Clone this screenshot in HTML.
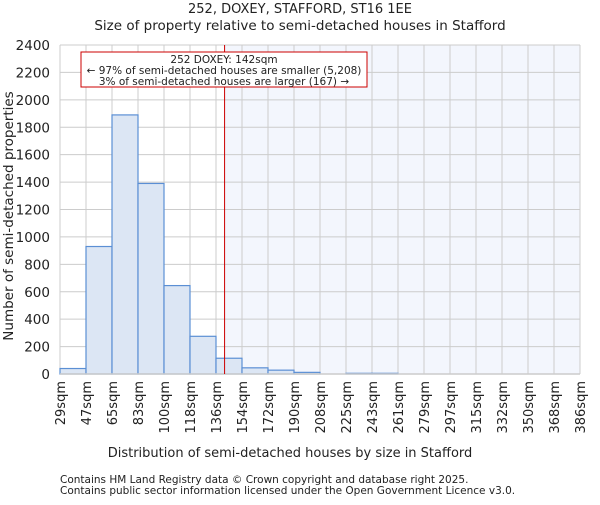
<!DOCTYPE html>
<html><head><meta charset="utf-8"><style>
body{margin:0;background:#fff}
svg text{font-family:"DejaVu Sans","Liberation Sans",sans-serif;fill:#222}
</style></head><body>
<svg id="c" width="600" height="500"></svg>
<script>
const categories=["29sqm","47sqm","65sqm","83sqm","100sqm","118sqm","136sqm","154sqm","172sqm","190sqm","208sqm","225sqm","243sqm","261sqm","279sqm","297sqm","315sqm","332sqm","350sqm","368sqm","386sqm"];
const counts=[40,930,1890,1390,645,275,115,45,28,12,0,5,5,0,0,0,0,0,0,0];
const yTicks=[0,200,400,600,800,1000,1200,1400,1600,1800,2000,2200,2400];
const markerBin=6.33;
const NS="http://www.w3.org/2000/svg";
const svg=document.getElementById('c');
const L=60,R=580,T=45,B=374,yMax=2400;
const bw=(R-L)/counts.length;
const xs=i=>L+i*bw, ys=v=>B-(v/yMax)*(B-T);
function mk(t,a,p){const e=document.createElementNS(NS,t);for(const k in a)e.setAttribute(k,a[k]);(p||svg).appendChild(e);return e;}
let e;
e=mk('rect',{x:xs(markerBin),y:T,width:R-xs(markerBin),height:B-T,fill:'#f3f6fd'});


yTicks.forEach(v=>{
 e=mk('line',{x1:L,x2:R,y1:ys(v),y2:ys(v),stroke:'#cccccc','stroke-width':1});
 
 
 e=mk('text',{x:L-10,y:ys(v)+5,'text-anchor':'end','font-size':13.5});e.textContent=v;
 
 
});
categories.forEach((c,i)=>{
 e=mk('line',{x1:xs(i),x2:xs(i),y1:T,y2:B,stroke:'#cccccc','stroke-width':1});
 
 
 e=mk('text',{x:0,y:0,'text-anchor':'end','font-size':13,transform:`translate(${xs(i)+5},381) rotate(-90)`});e.textContent=c;
 
 
});
counts.forEach((v,i)=>{
 if(v<=0)return;
 e=mk('rect',{x:xs(i),y:ys(v),width:bw,height:B-ys(v),fill:'#dce6f4',stroke:'#5b8fd4','stroke-width':1.2});
 
 
});
e=mk('line',{x1:L,x2:R,y1:B,y2:B,stroke:'#cccccc','stroke-width':1.5});


e=mk('line',{x1:xs(markerBin),x2:xs(markerBin),y1:T,y2:B,stroke:'#cc0000','stroke-width':1});


e=mk('rect',{x:81,y:52,width:286,height:35,fill:'#fff',stroke:'#cc0000','stroke-width':1});


[["252 DOXEY: 142sqm",63],["← 97% of semi-detached houses are smaller (5,208)",74],["3% of semi-detached houses are larger (167) →",85]].forEach(([t,y])=>{
 e=mk('text',{x:224,y:y,'text-anchor':'middle','font-size':10.5});e.textContent=t;
 
 
});
[["252, DOXEY, STAFFORD, ST16 1EE",13,13],["Size of property relative to semi-detached houses in Stafford",30,13.5]].forEach(([t,y,f])=>{
 e=mk('text',{x:300,y:y,'text-anchor':'middle','font-size':f});e.textContent=t;
 
 
});
e=mk('text',{x:0,y:0,'text-anchor':'middle','font-size':13.5,transform:'translate(13,216) rotate(-90)'});e.textContent='Number of semi-detached properties';


e=mk('text',{x:290,y:457,'text-anchor':'middle','font-size':13});e.textContent='Distribution of semi-detached houses by size in Stafford';


[["Contains HM Land Registry data © Crown copyright and database right 2025.",483],["Contains public sector information licensed under the Open Government Licence v3.0.",494]].forEach(([t,y])=>{
 e=mk('text',{x:60,y:y,'font-size':10.5,fill:'#444'});e.textContent=t;
 
 
});
</script>
</body></html>
